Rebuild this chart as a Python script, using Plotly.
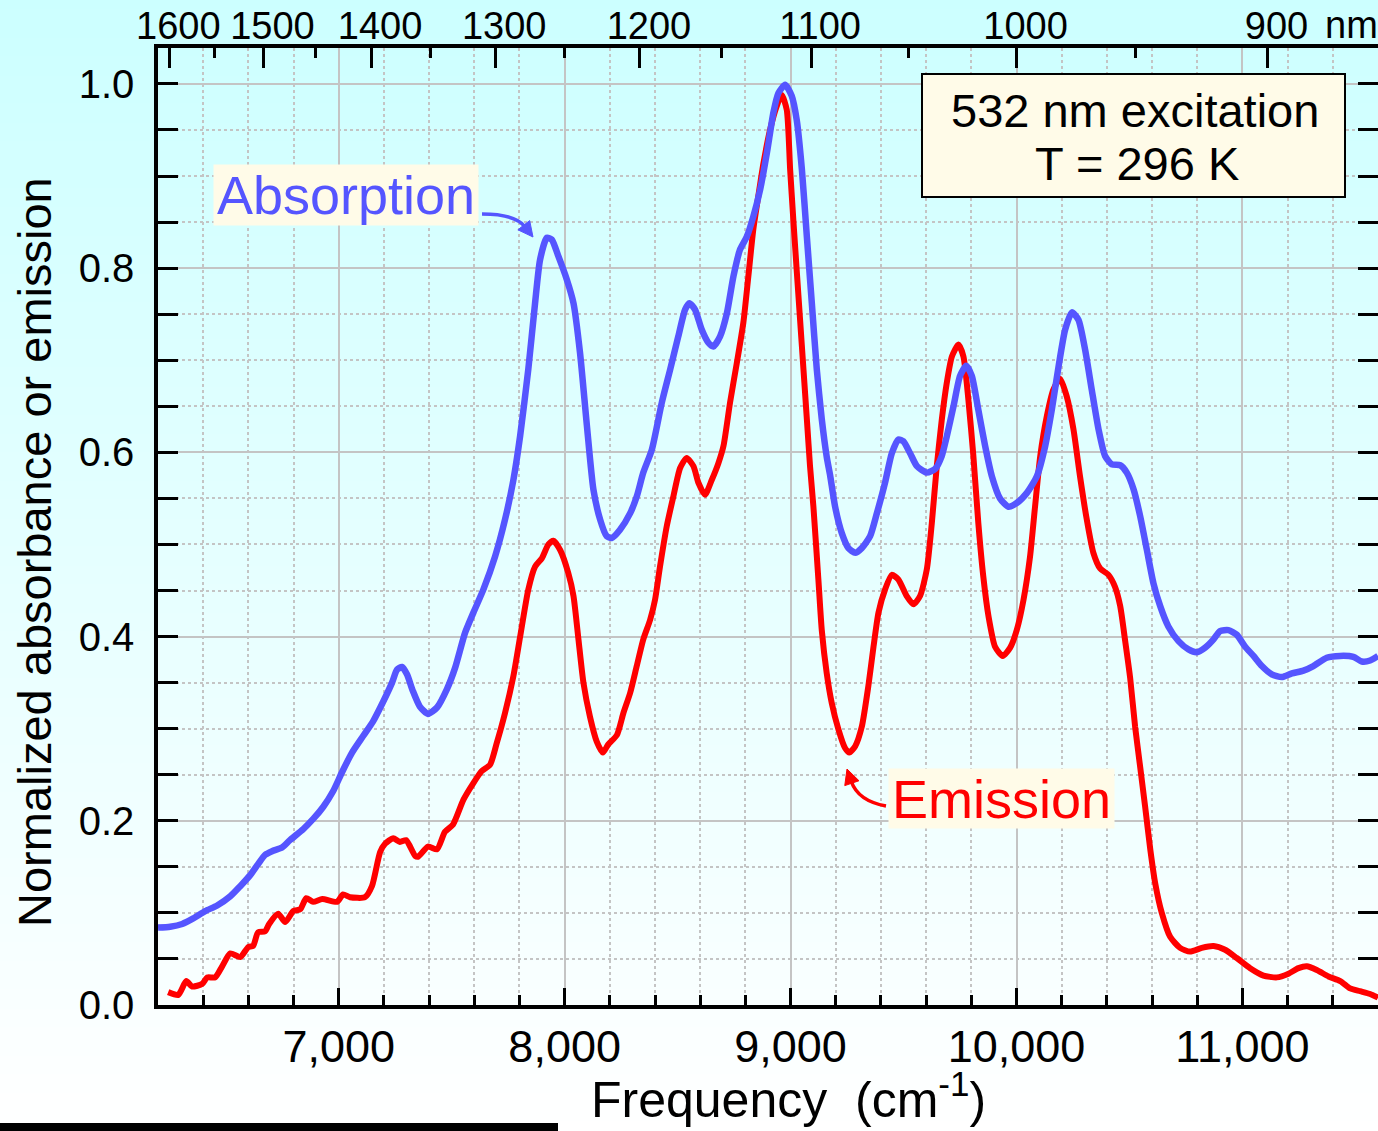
import plotly.graph_objects as go

# ---------------- data ----------------
abs_freq = [6200, 6254, 6307, 6356, 6409, 6462, 6520, 6564, 6608, 6643, 6674, 6705, 6749, 6784,
            6843, 6887, 6931, 6975, 7015, 7059, 7108, 7152, 7196, 7236, 7258, 7280, 7302, 7328,
            7359, 7395, 7435, 7479, 7515, 7559, 7596, 7640, 7692, 7736, 7773, 7803, 7839, 7869,
            7891, 7921, 7943, 7972, 8009, 8039, 8068, 8098, 8127, 8157, 8186, 8208, 8245, 8290,
            8319, 8348, 8386, 8430, 8467, 8503, 8533, 8552, 8577, 8607, 8636, 8658, 8688, 8718,
            8747, 8776, 8806, 8835, 8865, 8895, 8924, 8946, 8976, 9005, 9027, 9050, 9072, 9094,
            9116, 9138, 9160, 9175, 9197, 9227, 9256, 9286, 9315, 9352, 9382, 9418, 9448, 9477,
            9499, 9529, 9559, 9603, 9640, 9669, 9691, 9721, 9750, 9777, 9802, 9831, 9861, 9891,
            9927, 9964, 10001, 10046, 10090, 10127, 10156, 10186, 10215, 10245, 10274, 10304,
            10333, 10363, 10392, 10422, 10459, 10488, 10518, 10547, 10577, 10606, 10636, 10672,
            10717, 10761, 10798, 10835, 10872, 10901, 10938, 10975, 11012, 11049, 11086, 11130,
            11174, 11219, 11270, 11314, 11373, 11432, 11491, 11528, 11565, 11600]
abs_val = [0.084, 0.085, 0.088, 0.094, 0.102, 0.108, 0.118, 0.129, 0.141, 0.153, 0.163, 0.167,
           0.171, 0.179, 0.191, 0.202, 0.215, 0.232, 0.253, 0.274, 0.292, 0.308, 0.329, 0.350,
           0.364, 0.367, 0.359, 0.341, 0.324, 0.316, 0.323, 0.343, 0.366, 0.404, 0.426, 0.451,
           0.487, 0.527, 0.570, 0.618, 0.690, 0.762, 0.809, 0.833, 0.831, 0.813, 0.788, 0.762,
           0.708, 0.630, 0.560, 0.527, 0.509, 0.507, 0.516, 0.534, 0.552, 0.578, 0.603, 0.654,
           0.690, 0.726, 0.755, 0.762, 0.755, 0.733, 0.719, 0.715, 0.726, 0.751, 0.791, 0.820,
           0.834, 0.856, 0.885, 0.925, 0.969, 0.990, 0.999, 0.987, 0.961, 0.907, 0.834, 0.762,
           0.690, 0.636, 0.595, 0.575, 0.541, 0.512, 0.496, 0.491, 0.496, 0.509, 0.534, 0.567,
           0.599, 0.614, 0.612, 0.599, 0.585, 0.578, 0.582, 0.596, 0.617, 0.650, 0.683, 0.694,
           0.683, 0.646, 0.607, 0.574, 0.550, 0.541, 0.545, 0.556, 0.574, 0.607, 0.646, 0.693,
           0.733, 0.752, 0.744, 0.711, 0.668, 0.625, 0.596, 0.587, 0.586, 0.578, 0.560, 0.531,
           0.494, 0.458, 0.433, 0.411, 0.395, 0.386, 0.383, 0.388, 0.397, 0.406, 0.407, 0.402,
           0.389, 0.379, 0.368, 0.359, 0.356, 0.360, 0.363, 0.368, 0.377, 0.379, 0.378, 0.373,
           0.374, 0.379]

emi_freq = [6245, 6290, 6325, 6351, 6396, 6418, 6453, 6484, 6520, 6564, 6600, 6621, 6643, 6674,
            6692, 6732, 6763, 6799, 6830, 6856, 6887, 6927, 6993, 7019, 7050, 7116, 7147, 7183,
            7205, 7241, 7271, 7298, 7338, 7351, 7395, 7435, 7470, 7506, 7552, 7596, 7633, 7670,
            7699, 7736, 7773, 7803, 7839, 7869, 7899, 7928, 7950, 7980, 8016, 8039, 8061, 8083,
            8112, 8142, 8169, 8193, 8231, 8260, 8290, 8319, 8348, 8378, 8400, 8422, 8452, 8481,
            8511, 8540, 8570, 8592, 8621, 8651, 8680, 8703, 8732, 8762, 8791, 8813, 8835, 8857,
            8880, 8909, 8939, 8961, 8983, 8998, 9012, 9027, 9042, 9057, 9072, 9086, 9101, 9123,
            9138, 9160, 9182, 9212, 9241, 9260, 9286, 9315, 9344, 9367, 9389, 9418, 9448, 9477,
            9514, 9544, 9573, 9603, 9625, 9647, 9669, 9691, 9714, 9743, 9765, 9787, 9809, 9831,
            9853, 9876, 9905, 9939, 9972, 10001, 10031, 10060, 10082, 10105, 10134, 10163, 10193,
            10222, 10252, 10281, 10311, 10340, 10370, 10407, 10436, 10459, 10481, 10503, 10525,
            10547, 10569, 10592, 10614, 10643, 10680, 10724, 10768, 10820, 10872, 10923, 10975,
            11034, 11093, 11152, 11204, 11248, 11285, 11329, 11381, 11433, 11477, 11521, 11565,
            11600]
emi_val = [0.014, 0.011, 0.026, 0.020, 0.023, 0.030, 0.030, 0.042, 0.056, 0.052, 0.063, 0.064,
           0.079, 0.080, 0.088, 0.099, 0.090, 0.102, 0.104, 0.116, 0.112, 0.115, 0.112, 0.120,
           0.117, 0.117, 0.129, 0.166, 0.175, 0.181, 0.177, 0.179, 0.162, 0.161, 0.172, 0.169,
           0.188, 0.196, 0.223, 0.241, 0.254, 0.261, 0.284, 0.317, 0.357, 0.400, 0.451, 0.476,
           0.485, 0.500, 0.504, 0.494, 0.469, 0.444, 0.397, 0.350, 0.313, 0.286, 0.274, 0.283,
           0.293, 0.317, 0.339, 0.368, 0.397, 0.418, 0.440, 0.476, 0.520, 0.552, 0.583, 0.594,
           0.585, 0.567, 0.554, 0.570, 0.588, 0.607, 0.654, 0.697, 0.741, 0.791, 0.842, 0.878,
           0.914, 0.950, 0.976, 0.988, 0.972, 0.907, 0.853, 0.798, 0.744, 0.690, 0.636, 0.585,
           0.541, 0.462, 0.407, 0.360, 0.328, 0.299, 0.279, 0.274, 0.281, 0.302, 0.346, 0.389,
           0.426, 0.451, 0.467, 0.462, 0.444, 0.435, 0.444, 0.473, 0.523, 0.585, 0.635, 0.675,
           0.704, 0.717, 0.704, 0.657, 0.596, 0.523, 0.465, 0.422, 0.389, 0.379, 0.388, 0.407,
           0.440, 0.487, 0.541, 0.596, 0.639, 0.668, 0.680, 0.661, 0.625, 0.574, 0.527, 0.491,
           0.474, 0.467, 0.454, 0.433, 0.395, 0.355, 0.302, 0.259, 0.216, 0.169, 0.132, 0.100,
           0.074, 0.062, 0.058, 0.062, 0.064, 0.060, 0.051, 0.040, 0.032, 0.030, 0.034, 0.040,
           0.042, 0.038, 0.031, 0.026, 0.018, 0.015, 0.012, 0.008]

# wavelength ticks for the top axis (nm)
nm_major = [1600, 1500, 1400, 1300, 1200, 1100, 1000, 900]
nm_minor = [1550, 1450, 1350, 1250, 1150, 1050, 950]

freq_range = [6200, 11600]
val_range = [0, 1.039]

# ---------------- layout geometry ----------------
FIG_W, FIG_H = 1378, 1131
M_L, M_R, M_T, M_B = 158, 0, 48, 126
PLOT_W = FIG_W - M_L - M_R
PLOT_H = FIG_H - M_T - M_B


def paper_x(px):
    return (px - M_L) / PLOT_W


def paper_y(py):
    return (FIG_H - M_B - py) / PLOT_H


def data_x(px):
    return freq_range[0] + (px - M_L) * (freq_range[1] - freq_range[0]) / PLOT_W


def data_y(py):
    return val_range[0] + (FIG_H - M_B - py) * (val_range[1] - val_range[0]) / PLOT_H


def curved_arrow(p0, ctrl, tip, color, head_len=15, head_half=7.5, width=3.5):
    """Quadratic-Bezier shaft plus a filled triangular head; points in page pixels."""
    dx, dy = tip[0] - ctrl[0], tip[1] - ctrl[1]
    n = (dx * dx + dy * dy) ** 0.5
    ux, uy = dx / n, dy / n
    bx, by = tip[0] - ux * head_len, tip[1] - uy * head_len
    px_, py_ = -uy, ux
    c1 = (bx + px_ * head_half, by + py_ * head_half)
    c2 = (bx - px_ * head_half, by - py_ * head_half)
    shaft = dict(type="path", xref="x", yref="y", layer="above",
                 path=(f"M {data_x(p0[0])},{data_y(p0[1])} "
                       f"Q {data_x(ctrl[0])},{data_y(ctrl[1])} {data_x(bx + ux * 2)},{data_y(by + uy * 2)}"),
                 line=dict(color=color, width=width))
    head = dict(type="path", xref="x", yref="y", layer="above",
                path=(f"M {data_x(tip[0])},{data_y(tip[1])} "
                      f"L {data_x(c1[0])},{data_y(c1[1])} "
                      f"L {data_x(c2[0])},{data_y(c2[1])} Z"),
                fillcolor=color, line=dict(color=color, width=1))
    return [shaft, head]


FONT = "Liberation Sans, Arial, sans-serif"
BLUE = "#5555FF"
RED = "#FF0000"
CREAM = "#FFFBE8"
GRID = "#C4C4C4"

fig = go.Figure()

fig.add_trace(go.Scatter(x=emi_freq, y=emi_val, mode="lines",
                         line=dict(color=RED, width=6, shape="spline", smoothing=0.6),
                         name="Emission", hoverinfo="skip"))
fig.add_trace(go.Scatter(x=abs_freq, y=abs_val, mode="lines",
                         line=dict(color=BLUE, width=6.5, shape="spline", smoothing=0.6),
                         name="Absorption", hoverinfo="skip"))
# carrier trace so the wavelength axis is laid out
fig.add_trace(go.Scatter(x=freq_range, y=[None, None], xaxis="x2", mode="lines",
                         showlegend=False, hoverinfo="skip"))

shapes = []
# vertical cyan-to-white background gradient over the whole page
N_STRIPS = 120
top_rgb = (204, 255, 255)
for i in range(N_STRIPS):
    t = (i + 0.5) / N_STRIPS
    r = round(top_rgb[0] + (255 - top_rgb[0]) * t)
    g = round(top_rgb[1] + (255 - top_rgb[1]) * t)
    b = round(top_rgb[2] + (255 - top_rgb[2]) * t)
    y_top = FIG_H * i / N_STRIPS
    y_bot = FIG_H * (i + 1) / N_STRIPS + 1
    shapes.append(dict(type="rect", xref="paper", yref="paper", layer="below",
                       x0=paper_x(0), x1=paper_x(FIG_W),
                       y0=paper_y(y_bot), y1=paper_y(y_top),
                       fillcolor=f"rgb({r},{g},{b})", line=dict(width=0)))

# info box
shapes.append(dict(type="rect", xref="paper", yref="paper", layer="above",
                   x0=paper_x(922), x1=paper_x(1345), y0=paper_y(197), y1=paper_y(74),
                   fillcolor=CREAM, line=dict(color="black", width=2)))

# curved pointers from the labels to the curves
shapes += curved_arrow((482, 214), (515, 214), (533, 237), BLUE)
shapes += curved_arrow((886, 806), (858, 801), (847, 769), RED)

# strip along the bottom edge
shapes.append(dict(type="rect", xref="paper", yref="paper", layer="above",
                   x0=paper_x(0), x1=paper_x(558), y0=paper_y(FIG_H), y1=paper_y(1123),
                   fillcolor="black", line=dict(width=0)))

annotations = [
    # info box text
    dict(text="532 nm excitation", xref="paper", yref="paper",
         x=paper_x(1135), y=paper_y(110), xanchor="center", yanchor="middle",
         showarrow=False, font=dict(family=FONT, size=47, color="black")),
    dict(text="T = 296 K", xref="paper", yref="paper",
         x=paper_x(1137), y=paper_y(163), xanchor="center", yanchor="middle",
         showarrow=False, font=dict(family=FONT, size=47, color="black")),
    # curve labels
    dict(text="Absorption", xref="paper", yref="paper", x=paper_x(346), y=paper_y(195),
         xanchor="center", yanchor="middle", showarrow=False,
         width=264, height=60, borderpad=0, bgcolor=CREAM,
         font=dict(family=FONT, size=54, color=BLUE)),
    dict(text="Emission", xref="paper", yref="paper", x=paper_x(1001), y=paper_y(798),
         xanchor="center", yanchor="middle", showarrow=False,
         width=225, height=59, borderpad=0, bgcolor=CREAM,
         font=dict(family=FONT, size=54, color=RED)),
    # axis titles
    dict(text="Frequency  (cm<sup>-1</sup>)", xref="paper", yref="paper",
         x=paper_x(788), y=paper_y(1096), xanchor="center", yanchor="middle",
         showarrow=False, font=dict(family=FONT, size=50, color="black")),
    dict(text="Normalized absorbance or emission", xref="paper", yref="paper",
         x=paper_x(34), y=paper_y(552), xanchor="center", yanchor="middle",
         textangle=-90, showarrow=False, font=dict(family=FONT, size=47, color="black")),
    # unit after the last wavelength label
    dict(text="nm", xref="paper", yref="paper", x=paper_x(1380), y=paper_y(25),
         xanchor="right", yanchor="middle", showarrow=False,
         font=dict(family=FONT, size=38, color="black")),
]

fig.update_layout(
    width=FIG_W, height=FIG_H,
    margin=dict(l=M_L, r=M_R, t=M_T, b=M_B, pad=0),
    paper_bgcolor="white",
    plot_bgcolor="rgba(0,0,0,0)",
    showlegend=False,
    shapes=shapes,
    annotations=annotations,
    xaxis=dict(
        range=freq_range, dtick=1000, tick0=0, tickformat=",d",
        ticks="inside", ticklen=17, tickwidth=3, tickcolor="black",
        showline=True, linecolor="black", linewidth=3.5, mirror=False,
        showgrid=True, gridcolor=GRID, gridwidth=1.5, zeroline=False,
        tickfont=dict(family=FONT, size=45, color="black"),
        ticklabelstandoff=-1, automargin=False,
        minor=dict(dtick=200, tick0=0, ticks="inside", ticklen=10, tickwidth=3,
                   tickcolor="black", showgrid=True, gridcolor=GRID, gridwidth=1.5,
                   griddash="dot"),
    ),
    xaxis2=dict(
        overlaying="x", side="top", anchor="y", range=freq_range,
        tickvals=[1e7 / w for w in nm_major], ticktext=[str(w) for w in nm_major],
        ticks="inside", ticklen=20, tickwidth=3, tickcolor="black",
        showline=True, linecolor="black", linewidth=3.5,
        showgrid=False, zeroline=False,
        tickfont=dict(family=FONT, size=38, color="black"),
        ticklabelstandoff=-10, ticklabelshift=9, automargin=False,
        minor=dict(tickvals=[1e7 / w for w in nm_minor], ticks="inside", ticklen=10,
                   tickwidth=3, tickcolor="black", showgrid=False),
    ),
    yaxis=dict(
        range=val_range, dtick=0.2, tick0=0, tickformat=".1f",
        ticks="inside", ticklen=20, tickwidth=3, tickcolor="black",
        showline=True, linecolor="black", linewidth=3.5, mirror="allticks",
        showgrid=True, gridcolor=GRID, gridwidth=1.5, zeroline=False,
        tickfont=dict(family=FONT, size=40, color="black"),
        ticklabelstandoff=12, automargin=False,
        minor=dict(dtick=0.05, tick0=0, ticks="inside", ticklen=11, tickwidth=3,
                   tickcolor="black", showgrid=True, gridcolor=GRID, gridwidth=1.5,
                   griddash="dot"),
    ),
)

fig.write_html("out.html")
